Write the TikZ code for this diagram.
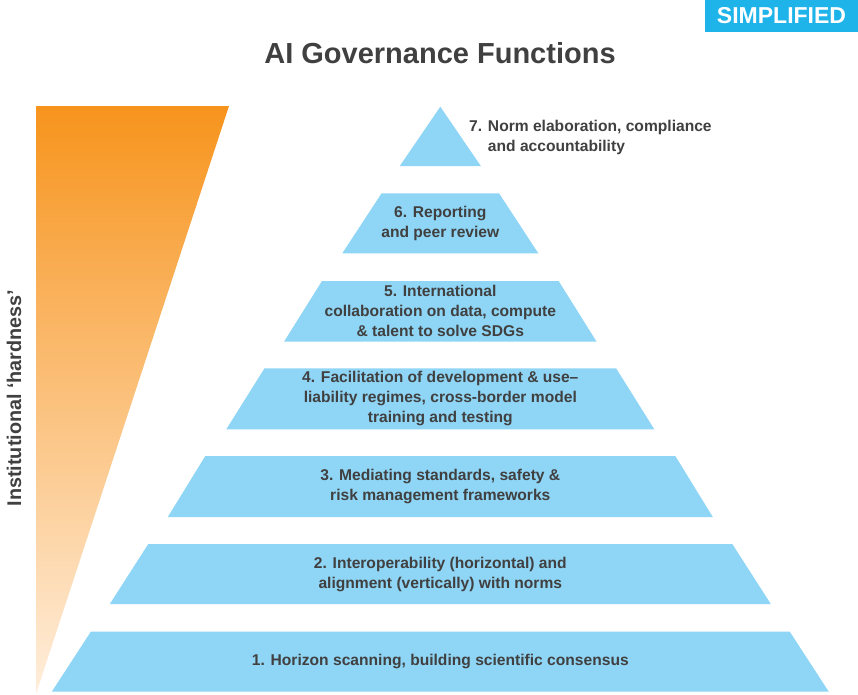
\documentclass[tikz,border=0pt]{standalone}
\usepackage{fontspec}
\setmainfont{Liberation Sans}
\definecolor{layerblue}{HTML}{8FD5F5}
\definecolor{badgeblue}{HTML}{1EB4EA}
\definecolor{txtgray}{HTML}{404040}
\definecolor{orangetop}{HTML}{F7941D}
\definecolor{orangebot}{HTML}{FFEEDC}
\tikzset{
  layer/.style={fill=layerblue, draw=none},
  ltext/.style={text=txtgray, align=center, font=\bfseries\fontsize{15.6}{20}\selectfont, inner sep=0pt},
}
\begin{document}
\begin{tikzpicture}[x=1pt,y=-1pt]
\useasboundingbox (0,0) rectangle (858,694);
\fill[white] (0,0) rectangle (858,694);
% badge
\node[fill=badgeblue, text=white, minimum width=153pt, minimum height=31.7pt, inner sep=0pt,
      font=\bfseries\fontsize{23}{24}\selectfont] (badge) at (781.5,15.85) {SIMPLIFIED};
% title
\node[text=txtgray, font=\bfseries\fontsize{29}{32}\selectfont, inner sep=0pt] (title) at (440,53) {AI Governance Functions};
% orange wedge
\shade[top color=orangetop, bottom color=orangebot] (36,106) -- (229,106) -- (36,694) -- cycle;
\node[rotate=90, text=txtgray, font=\bfseries\fontsize{19.8}{22}\selectfont, inner sep=0pt] (hard) at (14,398) {Institutional ‘hardness’};
% layers
\def\cx{440.3}
\fill[layer] (\cx,106.7) -- (\cx+40.5,166) -- (\cx-40.5,166) -- cycle;
\fill[layer] (\cx-58.7,193.3) -- (\cx+58.7,193.3) -- (\cx+98,253.3) -- (\cx-98,253.3) -- cycle;
\fill[layer] (\cx-118.3,281) -- (\cx+118.3,281) -- (\cx+156.3,341.7) -- (\cx-156.3,341.7) -- cycle;
\fill[layer] (\cx-175.8,368.3) -- (\cx+175.8,368.3) -- (\cx+214,429.3) -- (\cx-214,429.3) -- cycle;
\fill[layer] (\cx-235,456) -- (\cx+235,456) -- (\cx+272.5,517) -- (\cx-272.5,517) -- cycle;
\fill[layer] (\cx-292,544) -- (\cx+292,544) -- (\cx+330.5,604) -- (\cx-330.5,604) -- cycle;
\fill[layer] (\cx-349.5,631.7) -- (\cx+349.5,631.7) -- (\cx+388.5,691.7) -- (\cx-388.5,691.7) -- cycle;
% texts
\node[ltext, align=left, anchor=west] (t7) at (469,137) {7. Norm elaboration, compliance\\\phantom{7. }and accountability};
\node[ltext] (t6) at (\cx,223.3) {6. Reporting\\and peer review};
\node[ltext] (t5) at (\cx,311.3) {5. International\\collaboration on data, compute\\\& talent to solve SDGs};
\node[ltext] (t4) at (\cx,398.8) {4. Facilitation of development \& use–\\liability regimes, cross-border model\\training and testing};
\node[ltext] (t3) at (\cx,486.5) {3. Mediating standards, safety \&\\risk management frameworks};
\node[ltext] (t2) at (\cx,574) {2. Interoperability (horizontal) and\\alignment (vertically) with norms};
\node[ltext] (t1) at (\cx,661.7) {1. Horizon scanning, building scientific consensus};
\end{tikzpicture}
\end{document}
